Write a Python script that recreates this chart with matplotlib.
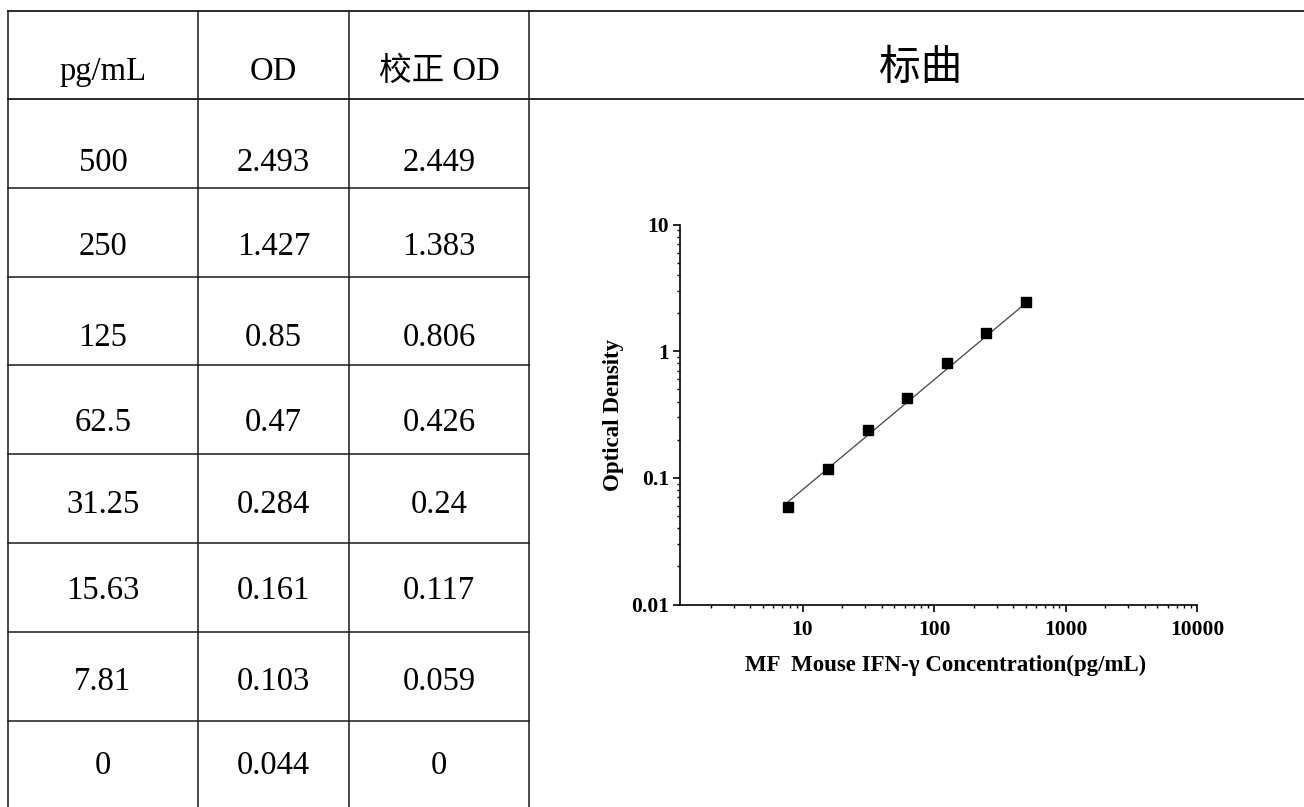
import numpy as np
import matplotlib
matplotlib.use("Agg")
import matplotlib.pyplot as plt
from matplotlib.ticker import FixedLocator, FixedFormatter, LogLocator, NullFormatter

# 表格数据
headers = ['pg/mL', 'OD', '校正 OD']
conc = [500, 250, 125, 62.5, 31.25, 15.63, 7.81, 0]
od = [2.493, 1.427, 0.85, 0.47, 0.284, 0.161, 0.103, 0.044]
od_corr = [2.449, 1.383, 0.806, 0.426, 0.24, 0.117, 0.059, 0]

# 拟合线（从图上读取的端点）
fit_x = [7.81, 500]
fit_y = [0.065, 2.40]

xticks = [10, 100, 1000, 10000]
xtick_labels = ['10', '100', '1000', '10000']
yticks = [0.01, 0.1, 1, 10]
ytick_labels = ['0.01', '0.1', '1', '10']

serif = ['Liberation Serif', 'Noto Sans CJK SC', 'DejaVu Sans']
cjk = ['Noto Sans CJK SC', 'DejaVu Sans']

W, H = 1304, 807
fig = plt.figure(figsize=(W / 100, H / 100), dpi=100)

# 表格（像素坐标）
axt = fig.add_axes([0, 0, 1, 1])
axt.set_xlim(0, W)
axt.set_ylim(H, 0)
axt.axis('off')

col_x = [8, 198, 349, 529]
top = 11
head_h = 88
row_h = 88.8
# 每行文字相对格子中心的下移量（像素）
row_shift = [19, 15, 17, 13, 6, 3, 6, 1]
lc = '#1a1a1a'
for x in col_x:
    axt.plot([x, x], [top, H + 5], color=lc, lw=1.1)
axt.plot([col_x[0], W], [top, top], color=lc, lw=1.3)
axt.plot([col_x[0], W], [top + head_h, top + head_h], color=lc, lw=1.3)
for i in range(1, len(conc)):
    y = top + head_h + i * row_h
    axt.plot([col_x[0], col_x[-1]], [y, y], color=lc, lw=1.1)

centers = [(col_x[i] + col_x[i + 1]) / 2 for i in range(3)]
for c, h in zip(centers, headers):
    axt.text(c, top + head_h / 2 + 17, h, ha='center', va='center',
             fontsize=23.5, family=serif, color='black')
axt.text((col_x[-1] + W) / 2 + 4, top + head_h / 2 + 13.5, '标曲', ha='center', va='center',
         fontsize=30, family=cjk, color='black')

for i in range(len(conc)):
    yc = top + head_h + i * row_h + row_h / 2 + row_shift[i]
    for c, v in zip(centers, [conc[i], od[i], od_corr[i]]):
        axt.text(c, yc, str(v), ha='center', va='center',
                 fontsize=23.5, family=serif, color='black')

# 标准曲线
ax = fig.add_axes([680 / W, 1 - 604.5 / H, (1197 - 680) / W, (604.5 - 224.5) / H])
ax.plot(fit_x, fit_y, color='#444444', lw=0.9)
ax.plot(conc[:-1], od_corr[:-1], 's', color='black', ms=7.5)
ax.set_xscale('log')
ax.set_yscale('log')
ax.set_xlim(1.17, 10000)
ax.set_ylim(0.01, 10)
ax.xaxis.set_major_locator(FixedLocator(xticks))
ax.xaxis.set_major_formatter(FixedFormatter(xtick_labels))
ax.yaxis.set_major_locator(FixedLocator(yticks))
ax.yaxis.set_major_formatter(FixedFormatter(ytick_labels))
ax.xaxis.set_minor_locator(LogLocator(subs=np.arange(2, 10), numticks=20))
ax.yaxis.set_minor_locator(LogLocator(subs=np.arange(2, 10), numticks=20))
ax.xaxis.set_minor_formatter(NullFormatter())
ax.yaxis.set_minor_formatter(NullFormatter())
ax.spines['top'].set_visible(False)
ax.spines['right'].set_visible(False)
for s in ['left', 'bottom']:
    ax.spines[s].set_linewidth(1.2)
ax.tick_params(which='major', length=5, width=1.2)
ax.tick_params(axis='x', which='major', pad=6)
ax.tick_params(axis='y', which='major', pad=3)
ax.tick_params(which='minor', length=2.5, width=1.0)
for lab in ax.get_xticklabels() + ax.get_yticklabels():
    lab.set_family('Liberation Serif')
    lab.set_fontweight('bold')
    lab.set_fontsize(15.5)
ax.set_xlabel('MF  Mouse IFN-γ Concentration(pg/mL)', family='Liberation Serif',
              fontweight='bold', fontsize=16.5, labelpad=11)
ax.xaxis.label.set_x(0.5 + 7 / 517)
ax.set_ylabel('Optical Density', family='Liberation Serif',
              fontweight='bold', fontsize=16.5, labelpad=5)

fig.savefig('out.png', dpi=100)
